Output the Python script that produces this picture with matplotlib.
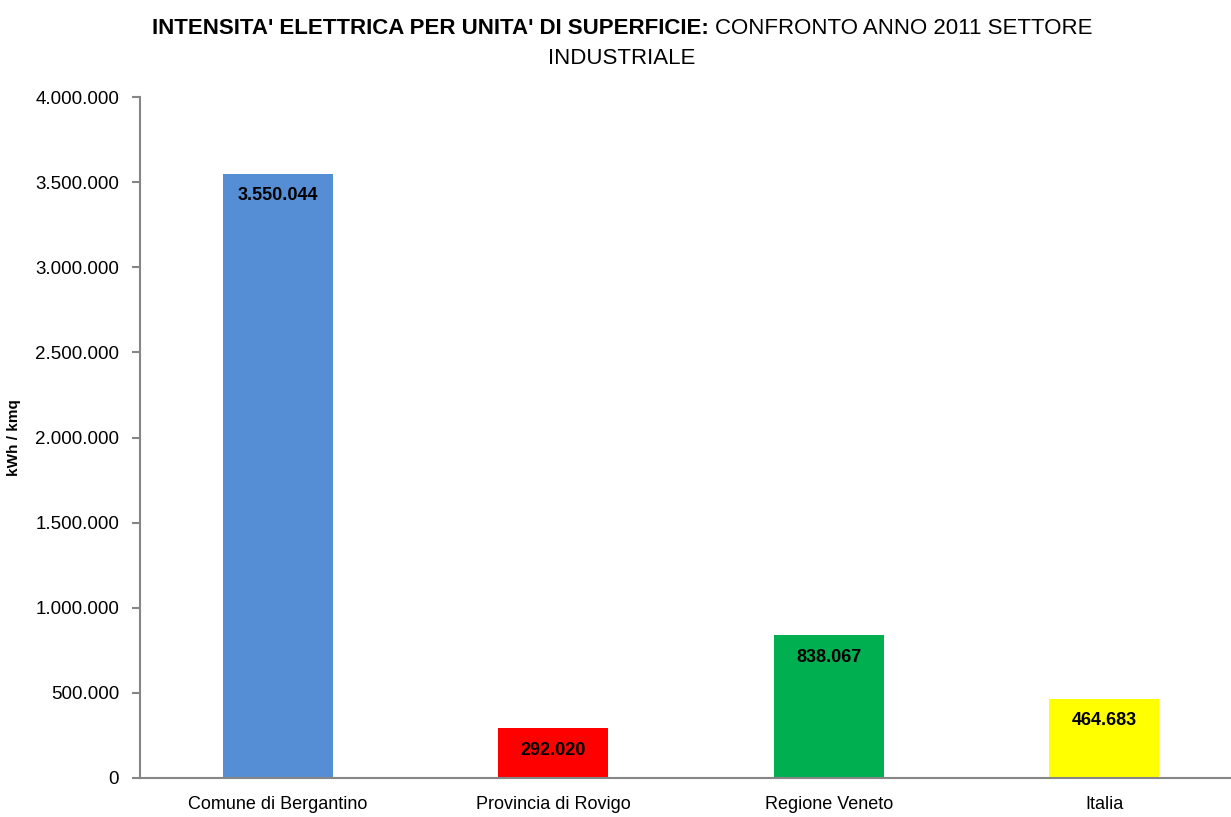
import matplotlib
matplotlib.use("Agg")
import matplotlib.pyplot as plt
from matplotlib import font_manager as fm
from matplotlib.ticker import FuncFormatter

names = {f.name for f in fm.fontManager.ttflist}
FAM = ['Liberation Sans Narrow', 'DejaVu Sans'] if 'Liberation Sans Narrow' in names else ['Liberation Sans', 'DejaVu Sans']
plt.rcParams['font.family'] = FAM

categories = ["Comune di Bergantino", "Provincia di Rovigo", "Regione Veneto", "Italia"]
values = [3550044, 292020, 838067, 464683]
colors = ["#558ED5", "#FF0000", "#00B050", "#FFFF00"]
yticks = [0, 500000, 1000000, 1500000, 2000000, 2500000, 3000000, 3500000, 4000000]

def itfmt(v):
    return f"{int(round(v)):,}".replace(",", ".")

W, H = 1231, 817
fig = plt.figure(figsize=(W/100, H/100), dpi=100)
ax = fig.add_axes([140/W, 39/H, (1242-140)/W, (778-97)/H])
x = range(len(categories))
ax.bar(x, values, width=0.4, color=colors, zorder=2)
ax.set_xlim(-0.5, 3.5)
ax.set_ylim(0, 4000000)
ax.set_yticks(yticks)
ax.yaxis.set_major_formatter(FuncFormatter(lambda v, p: itfmt(v)))
ax.set_xticks(list(x))
ax.set_xticklabels(categories, fontsize=13)
ax.tick_params(axis='y', labelsize=13.5, length=6, color='#868686', width=1.5, pad=9)
ax.tick_params(axis='x', length=0, pad=13)
for s in ['top', 'right']:
    ax.spines[s].set_visible(False)
for s in ['left', 'bottom']:
    ax.spines[s].set_color('#868686')
    ax.spines[s].set_linewidth(1.5)
ax.set_ylabel("kWh / kmq", fontsize=11, fontweight='bold', labelpad=10)

for xi, v in zip(x, values):
    ax.annotate(itfmt(v), (xi, v), xytext=(0, -22), textcoords='offset pixels',
                ha='center', va='center', fontsize=13, fontweight='bold')

# title with mixed weights
bold_part = "INTENSITA' ELETTRICA PER UNITA' DI SUPERFICIE: "
norm_part = "CONFRONTO ANNO 2011 SETTORE"
fs_t = 16
r = fig.canvas.get_renderer()
tb = fig.text(0, 0, bold_part, fontsize=fs_t, fontweight='bold')
tn = fig.text(0, 0, norm_part, fontsize=fs_t)
wb = tb.get_window_extent(r).width
wn = tn.get_window_extent(r).width
cx = 622
left = cx - (wb + wn) / 2
tb.set_position((left / W, 1 - 28 / H)); tb.set_va('center'); tb.set_ha('left')
tn.set_position(((left + wb) / W, 1 - 28 / H)); tn.set_va('center'); tn.set_ha('left')
fig.text(cx / W, 1 - 59 / H, "INDUSTRIALE", fontsize=fs_t, ha='center', va='center')

fig.savefig("out.png", dpi=100)
